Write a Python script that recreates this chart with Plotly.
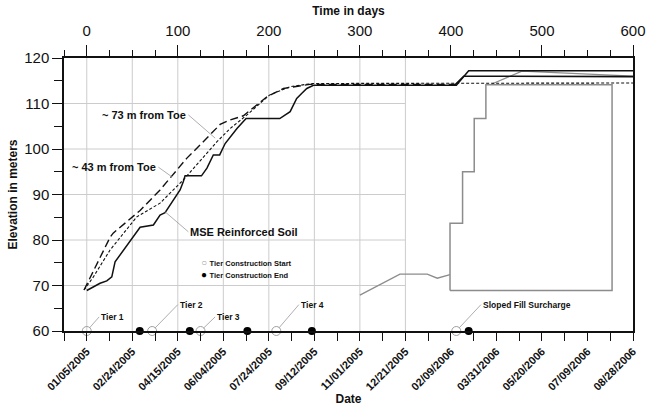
import plotly.graph_objects as go

# ---------------- data ----------------
mse_days = [0, 7.3, 14.6, 22, 27.5, 31.1, 40.3, 49.4, 58.6, 73.2, 80.5, 86, 95.2, 102.5, 106,
            108, 126, 132, 139, 146, 152, 159, 165, 175, 212, 223.4, 230.6, 236, 241.7, 249,
            300, 406, 419.5, 600]
mse_elev = [68.9, 69.7, 70.5, 71.0, 71.9, 75.2, 77.8, 80.4, 82.8, 83.3, 85.5, 86.0, 88.8, 91.0, 92.8,
            94.1, 94.1, 95.8, 98.7, 98.7, 101.2, 103.1, 104.5, 106.7, 106.7, 108.2, 111.1, 112.2, 113.3, 114.0,
            114.0, 114.0, 117.2, 117.2]

toe73_days = [-3, 25.6, 29, 44, 58.6, 80.5, 91.5, 110, 128, 146.5, 157.6, 172, 198, 216, 245, 300, 405]
toe73_elev = [69.0, 80.6, 81.5, 84.0, 86.5, 91.0, 93.6, 98.0, 101.6, 105.4, 106.4, 107.3, 111.5, 113.3, 114.2, 114.2, 114.2]

toe43_days = [-3, 7.3, 25.6, 34.7, 55, 80.5, 106, 124.5, 143, 157.5, 176, 201, 223.4, 248, 600]
toe43_elev = [69.0, 71.9, 77.8, 80.0, 85.1, 88.1, 93.2, 97.4, 101.6, 104.5, 107.5, 111.9, 113.7, 114.4, 114.5]

upper_days = [404, 414, 600]
upper_elev = [114.0, 116.0, 115.9]

gray_early_days = [300, 344, 374, 385, 399]
gray_early_elev = [67.9, 72.5, 72.5, 71.6, 72.4]

stair_days = [399, 399, 412.8, 412.8, 425.6, 425.6, 438.4, 438.4, 577, 577, 399]
stair_elev = [68.9, 83.7, 83.7, 95.0, 95.0, 106.7, 106.7, 114.1, 114.1, 68.9, 68.9]

gray_top_days = [445, 478, 600]
gray_top_elev = [114.3, 117.1, 116.0]

tier_start_days = [0, 71.8, 125, 208.2, 405.9]
tier_end_days = [58.2, 113.2, 176.4, 247.3, 419.5]
tier_base = 60

tier_labels = ["Tier 1", "Tier 2", "Tier 3", "Tier 4", "Sloped Fill Surcharge"]
tier_label_days = [13.6, 100, 141, 233, 433]
tier_label_elev = [63.1, 65.8, 63.1, 65.8, 65.8]

legend_labels = ["Tier Construction Start", "Tier Construction End"]

date_tick_days = list(range(-25, 601, 25))
date_labels = ["01/05/2005", "02/24/2005", "04/15/2005", "06/04/2005", "07/24/2005",
               "09/12/2005", "11/01/2005", "12/21/2005", "02/09/2006", "03/31/2006",
               "05/20/2006", "07/09/2006", "08/28/2006"]
date_ticktext = [""] + sum([[lab, ""] for lab in date_labels], [])[:-1]

day_ticks = [0, 100, 200, 300, 400, 500, 600]
grid_days = [0, 50, 100, 150, 200, 250, 300, 350]
grid_elev = [70, 80, 90, 100, 110]

X_RANGE = [-25, 600]
Y_RANGE = [60, 120]

FONT = "Liberation Sans, Arial, sans-serif"
GRAY = "#8c8c8c"
OPEN_GRAY = "#a0a0a0"

fig = go.Figure()

def line(x, y, color="#111", width=1.5, dash="solid", xaxis="x", name=""):
    fig.add_trace(go.Scatter(x=x, y=y, mode="lines", name=name, showlegend=False,
                             xaxis=xaxis, hoverinfo="skip",
                             line=dict(color=color, width=width, dash=dash)))

line(gray_early_days, gray_early_elev, color=GRAY, width=1.3, xaxis="x2", name="gray early")
line(stair_days, stair_elev, color=GRAY, width=1.5, name="stairs")
line(gray_top_days, gray_top_elev, color=GRAY, width=1.2, name="gray top")
line(upper_days, upper_elev, color="#111", width=1.6, name="upper")
line(toe73_days, toe73_elev, color="#111", width=1.4, dash="8px,4px", name="~73 m")
line(toe43_days, toe43_elev, color="#111", width=1.1, dash="3px,2px", name="~43 m")
line(mse_days, mse_elev, color="#111", width=1.5, name="MSE")

fig.add_trace(go.Scatter(x=tier_start_days, y=[tier_base] * len(tier_start_days), mode="markers",
                         name=legend_labels[0], cliponaxis=False, showlegend=False,
                         marker=dict(symbol="circle-open", size=9, color=OPEN_GRAY, line=dict(width=1))))
fig.add_trace(go.Scatter(x=tier_end_days, y=[tier_base] * len(tier_end_days), mode="markers",
                         name=legend_labels[1], cliponaxis=False, showlegend=False,
                         marker=dict(symbol="circle", size=8, color="#000")))

shapes = []
for d in grid_days:
    shapes.append(dict(type="line", xref="x", yref="y", x0=d, x1=d, y0=Y_RANGE[0], y1=Y_RANGE[1],
                       line=dict(color="#cccccc", width=1), layer="below"))
for e in grid_elev:
    shapes.append(dict(type="line", xref="x", yref="y", x0=X_RANGE[0], x1=grid_days[-1], y0=e, y1=e,
                       line=dict(color="#cccccc", width=1), layer="below"))

annotations = []
for lab, sd, ld, le in zip(tier_labels, tier_start_days, tier_label_days, tier_label_elev):
    annotations.append(dict(x=sd, y=tier_base, xref="x", yref="y", ax=ld, ay=le, axref="x", ayref="y",
                            text=lab, showarrow=True, arrowhead=0, arrowwidth=0.8, arrowcolor="#999",
                            standoff=4, xanchor="left", yanchor="middle",
                            font=dict(family=FONT, size=8.5, color="#111", weight="bold")))

curve_notes = [
    ("~ 73 m from Toe", 141, 102.4, 111.6, 107.5, "right"),
    ("~ 43 m from Toe", 93.4, 93.9, 78.7, 96.0, "right"),
    ("MSE Reinforced Soil", 86, 86.2, 111.6, 81.8, "left"),
]
for txt, px, py, tx, ty, anc in curve_notes:
    annotations.append(dict(x=px, y=py, xref="x", yref="y", ax=tx, ay=ty, axref="x", ayref="y",
                            text=txt, showarrow=True, arrowhead=0, arrowwidth=0.8, arrowcolor="#999",
                            xanchor=anc, yanchor="middle",
                            font=dict(family=FONT, size=11, color="#111", weight="bold")))

# legend built as one text block (symbol glyph + label per line)
legend_text = "<br>".join([
    f'<span style="font-size:10px;color:{OPEN_GRAY}">○</span> <span style="font-size:7.5px">{legend_labels[0]}</span>',
    f'<span style="font-size:10px;color:#000">●</span> <span style="font-size:7.5px">{legend_labels[1]}</span>',
])
annotations.append(dict(x=0.238, y=0.2297, xref="paper", yref="paper", text=legend_text, showarrow=False,
                        xanchor="left", yanchor="middle", align="left",
                        font=dict(family=FONT, size=9, color="#111", weight="bold")))

fig.update_layout(
    width=647, height=408,
    margin=dict(l=64, r=14, t=58, b=77),
    paper_bgcolor="white", plot_bgcolor="white",
    font=dict(family=FONT, color="#111"),
    shapes=shapes, annotations=annotations,
    showlegend=False,
    xaxis=dict(range=X_RANGE, tickmode="array", tickvals=date_tick_days, ticktext=date_ticktext,
               tickangle=-45, ticks="outside", ticklen=8, tickwidth=1.2, tickcolor="#111",
               showline=True, linecolor="#111", linewidth=1.5, showgrid=False, zeroline=False,
               tickfont=dict(family=FONT, size=11, color="#111", weight="bold"),
               title=dict(text="Date", font=dict(family=FONT, size=12, color="#111", weight="bold"),
                          standoff=2),
               automargin=False),
    xaxis2=dict(range=X_RANGE, overlaying="x", side="top", anchor="y", tickmode="array",
                tickvals=day_ticks, ticks="outside", ticklen=11, tickwidth=1.2, tickcolor="#111",
                ticklabelstandoff=3,
                minor=dict(tickmode="linear", tick0=0, dtick=25, ticks="outside", ticklen=6,
                           tickwidth=1.2, tickcolor="#111", showgrid=False),
                showline=True, linecolor="#111", linewidth=1.5, showgrid=False, zeroline=False,
                tickfont=dict(family=FONT, size=15, color="#111"),
                title=dict(text="Time in days", font=dict(family=FONT, size=12, color="#111", weight="bold"),
                           standoff=4),
                automargin=False),
    yaxis=dict(range=Y_RANGE, tickmode="linear", tick0=60, dtick=10, ticks="outside", ticklen=10,
               tickwidth=1.2, tickcolor="#111",
               minor=dict(tickmode="linear", tick0=60, dtick=5, ticks="outside", ticklen=8,
                          tickwidth=1.2, tickcolor="#111", showgrid=False),
               showline=True, linecolor="#111", linewidth=1.5, mirror=True, showgrid=False, zeroline=False,
               tickfont=dict(family=FONT, size=15, color="#111"),
               title=dict(text="Elevation in meters", font=dict(family=FONT, size=12, color="#111", weight="bold"),
                          standoff=4),
               automargin=False),
)

fig.write_html("out.html")
